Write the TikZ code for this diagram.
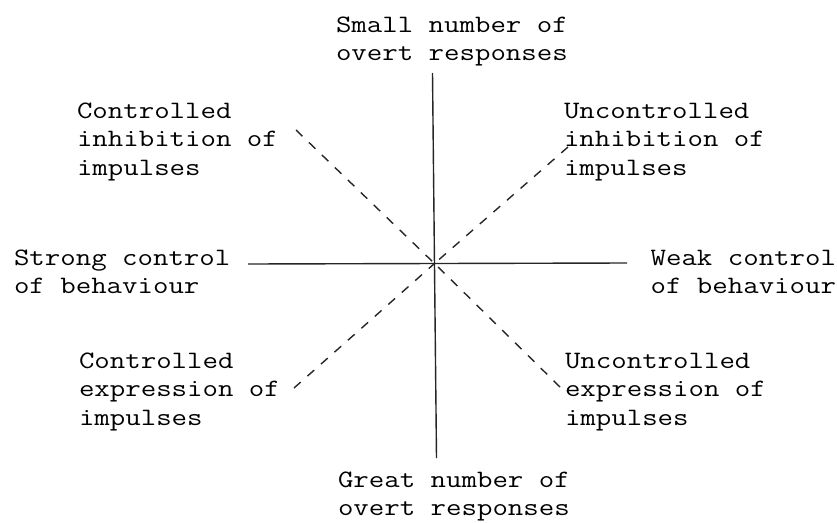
\documentclass[tikz,border=0pt]{standalone}
\usepackage{fontspec}
\newfontfamily\tw{Latin Modern Mono}[FakeStretch=1.2]
\newcommand\lblL[1]{\vtop{\tw\fontsize{25}{28.5}\selectfont\halign{##\hfil\cr#1\crcr}}}
\newcommand\lblR[1]{\vtop{\tw\fontsize{25}{28.5}\selectfont\halign{\hfil##\cr#1\crcr}}}
\begin{document}
\begin{tikzpicture}[x=1pt,y=-1pt,
  lab/.style={inner sep=0pt, outer sep=0pt, text=black},
  axis/.style={line width=1.4pt, black!85},
  diag/.style={line width=1.4pt, black!85, dash pattern=on 9pt off 9pt}]
\useasboundingbox (0,0) rectangle (837,522);
% labels
\node[lab, anchor=base west] (tp) at (336,32) {\lblL{Small number of\cr overt responses}};
\node[lab, anchor=base west] (bt) at (338,487) {\lblL{Great number of\cr overt responses}};
\node[lab, anchor=base west] (ul) at (77,118) {\lblL{Controlled\cr inhibition of\cr impulses}};
\node[lab, anchor=base west] (ur) at (564,118) {\lblL{Uncontrolled\cr inhibition of\cr impulses}};
\node[lab, anchor=base west] (ll) at (79,368) {\lblL{Controlled\cr expression of\cr impulses}};
\node[lab, anchor=base west] (lr) at (565,368) {\lblL{Uncontrolled\cr expression of\cr impulses}};
\node[lab, anchor=base west] (ml) at (14,265) {\lblL{Strong control\cr of behaviour}};
\node[lab, anchor=base east] (mr) at (836,265) {\lblR{Weak control\cr of behaviour}};
% axis end points
\coordinate (c) at (434.5,263.5);
\coordinate (top) at (432.5,73);
\coordinate (bot) at (436.5,458);
\coordinate (lft) at (248,264);
\coordinate (rgt) at (627,263);
\coordinate (nw) at (296,130);
\coordinate (ne) at (568,147);
\coordinate (sw) at (294,388);
\coordinate (se) at (560,387);
% axes
\draw[axis] (top) -- (bot);
\draw[axis] (lft) -- (rgt);
% diagonals
\draw[diag] (nw) -- (c);
\draw[diag] (ne) -- (c);
\draw[diag] (sw) -- (c);
\draw[diag] (se) -- (c);
\end{tikzpicture}
\end{document}
